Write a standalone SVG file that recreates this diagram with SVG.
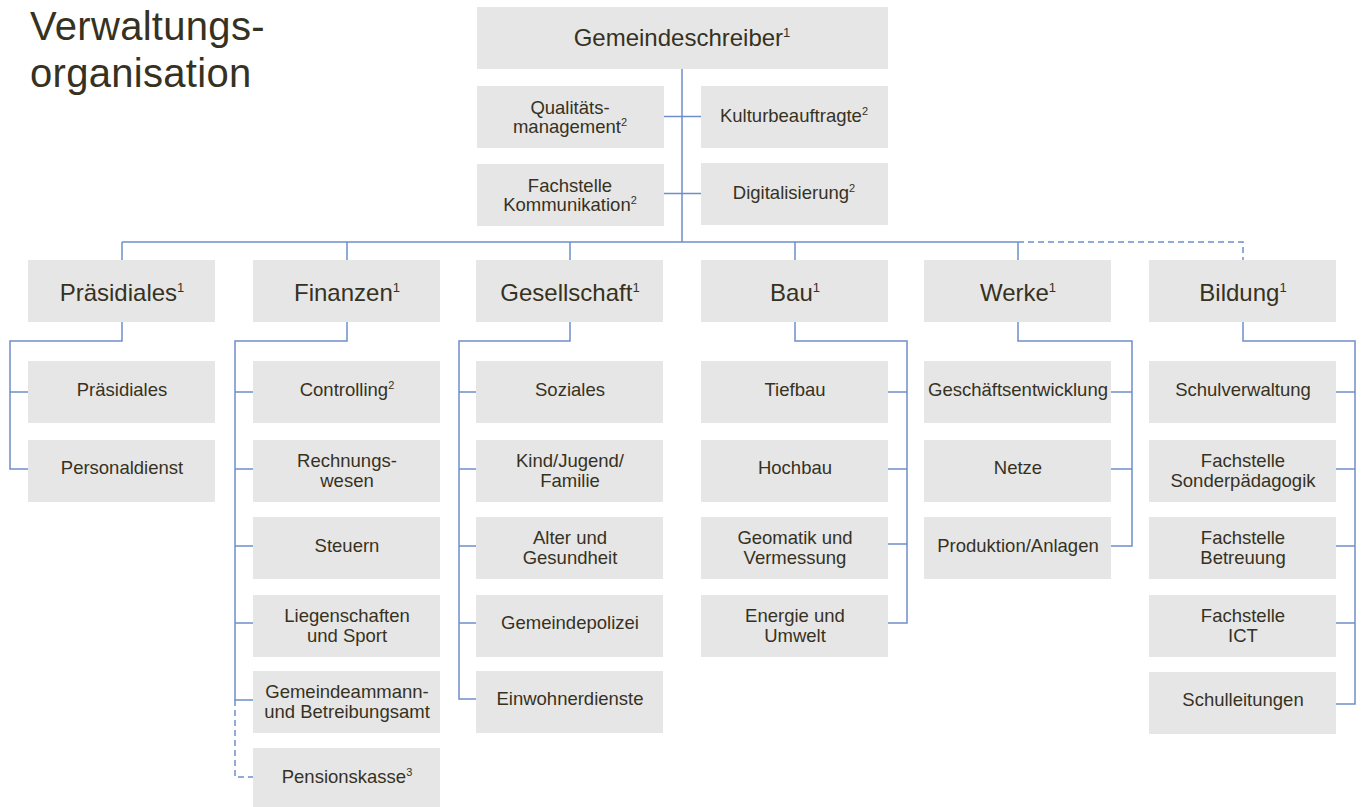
<svg xmlns="http://www.w3.org/2000/svg" width="1364" height="807" viewBox="0 0 1364 807">
<style>
.box{fill:#e6e6e6}
text{font-family:"Liberation Sans",Arial,sans-serif;fill:#36321f;text-anchor:middle}
.t{font-size:18.5px}
.h{font-size:24px}
.title{font-size:40px;text-anchor:start;letter-spacing:0.3px}
.s{font-size:11px}
.sh{font-size:13px}
.ln{fill:none;stroke:#6e8ec9;stroke-width:1.5}
.dash{stroke-dasharray:6 4}
</style>
<rect width="1364" height="807" fill="#fff"/>
<g id="title">
<text class="title" x="30" y="40">Verwaltungs-</text>
<text class="title" x="30" y="87">organisation</text>
</g>
<g id="connectors">
<path class="ln" d="M682 69V242M664 116.5H701M664 193.5H701M122 242H1018M122 242V260M347 242V260M570 242V260M795 242V260M1018 242V260"/>
<path class="ln dash" d="M1018 242H1243V260"/>
<path class="ln" d="M122 322V341H10V469H28M10 392H28"/>
<path class="ln" d="M347 322V341H235V700H253M235 392H253M235 469H253M235 546H253M235 623H253"/>
<path class="ln dash" d="M235 700V777H253"/>
<path class="ln" d="M570 322V341H459V699H476M459 392H476M459 469H476M459 546H476M459 623H476"/>
<path class="ln" d="M795 322V341H907V623H888M907 392H888M907 469H888M907 544H888"/>
<path class="ln" d="M1018 322V341H1132V546H1111M1132 392H1111M1132 469H1111"/>
<path class="ln" d="M1243 322V341H1355V704H1336M1355 392H1336M1355 469H1336M1355 546H1336M1355 623H1336"/>
</g>
<g id="gemeindeschreiber"><rect class="box" x="477" y="7" width="411" height="62"/><text class="h" x="682" y="46">Gemeindeschreiber<tspan class="sh" dy="-9">1</tspan></text></g>
<g id="qualitaet"><rect class="box" x="477" y="86" width="187" height="62"/><text class="t" x="570" y="114">Qualitäts-</text><text class="t" x="570" y="133">management<tspan class="s" dy="-7">2</tspan></text></g>
<g id="kultur"><rect class="box" x="701" y="86" width="187" height="62"/><text class="t" x="794" y="122">Kulturbeauftragte<tspan class="s" dy="-7">2</tspan></text></g>
<g id="kommunikation"><rect class="box" x="477" y="164" width="187" height="62"/><text class="t" x="570" y="192">Fachstelle</text><text class="t" x="570" y="211">Kommunikation<tspan class="s" dy="-7">2</tspan></text></g>
<g id="digitalisierung"><rect class="box" x="701" y="163" width="187" height="62"/><text class="t" x="794" y="199">Digitalisierung<tspan class="s" dy="-7">2</tspan></text></g>

<g id="praesidiales"><rect class="box" x="28" y="260" width="187" height="62"/><text class="h" x="122" y="301">Präsidiales<tspan class="sh" dy="-9">1</tspan></text></g>
<g id="finanzen"><rect class="box" x="253" y="260" width="187" height="62"/><text class="h" x="347" y="301">Finanzen<tspan class="sh" dy="-9">1</tspan></text></g>
<g id="gesellschaft"><rect class="box" x="476" y="260" width="187" height="62"/><text class="h" x="570" y="301">Gesellschaft<tspan class="sh" dy="-9">1</tspan></text></g>
<g id="bau"><rect class="box" x="701" y="260" width="187" height="62"/><text class="h" x="795" y="301">Bau<tspan class="sh" dy="-9">1</tspan></text></g>
<g id="werke"><rect class="box" x="924" y="260" width="187" height="62"/><text class="h" x="1018" y="301">Werke<tspan class="sh" dy="-9">1</tspan></text></g>
<g id="bildung"><rect class="box" x="1149" y="260" width="187" height="62"/><text class="h" x="1243" y="301">Bildung<tspan class="sh" dy="-9">1</tspan></text></g>

<g id="p-praesidiales"><rect class="box" x="28" y="361" width="187" height="62"/><text class="t" x="122" y="396">Präsidiales</text></g>
<g id="p-personaldienst"><rect class="box" x="28" y="440" width="187" height="62"/><text class="t" x="122" y="474">Personaldienst</text></g>

<g id="f-controlling"><rect class="box" x="253" y="361" width="187" height="62"/><text class="t" x="347" y="396">Controlling<tspan class="s" dy="-7">2</tspan></text></g>
<g id="f-rechnungswesen"><rect class="box" x="253" y="440" width="187" height="62"/><text class="t" x="347" y="467">Rechnungs-</text><text class="t" x="347" y="486.5">wesen</text></g>
<g id="f-steuern"><rect class="box" x="253" y="517" width="187" height="62"/><text class="t" x="347" y="552">Steuern</text></g>
<g id="f-liegenschaften"><rect class="box" x="253" y="595" width="187" height="62"/><text class="t" x="347" y="622">Liegenschaften</text><text class="t" x="347" y="641.5">und Sport</text></g>
<g id="f-gemeindeammann"><rect class="box" x="253" y="671" width="187" height="62"/><text class="t" x="347" y="698">Gemeindeammann-</text><text class="t" x="347" y="717.5">und Betreibungsamt</text></g>
<g id="f-pensionskasse"><rect class="box" x="253" y="748" width="187" height="62"/><text class="t" x="347" y="783">Pensionskasse<tspan class="s" dy="-7">3</tspan></text></g>

<g id="g-soziales"><rect class="box" x="476" y="361" width="187" height="62"/><text class="t" x="570" y="396">Soziales</text></g>
<g id="g-kind"><rect class="box" x="476" y="440" width="187" height="62"/><text class="t" x="570" y="467">Kind/Jugend/</text><text class="t" x="570" y="486.5">Familie</text></g>
<g id="g-alter"><rect class="box" x="476" y="517" width="187" height="62"/><text class="t" x="570" y="544">Alter und</text><text class="t" x="570" y="563.5">Gesundheit</text></g>
<g id="g-polizei"><rect class="box" x="476" y="595" width="187" height="62"/><text class="t" x="570" y="629">Gemeindepolizei</text></g>
<g id="g-einwohner"><rect class="box" x="476" y="671" width="187" height="62"/><text class="t" x="570" y="705">Einwohnerdienste</text></g>

<g id="b-tiefbau"><rect class="box" x="701" y="361" width="187" height="62"/><text class="t" x="795" y="396">Tiefbau</text></g>
<g id="b-hochbau"><rect class="box" x="701" y="440" width="187" height="62"/><text class="t" x="795" y="474">Hochbau</text></g>
<g id="b-geomatik"><rect class="box" x="701" y="517" width="187" height="62"/><text class="t" x="795" y="544">Geomatik und</text><text class="t" x="795" y="563.5">Vermessung</text></g>
<g id="b-energie"><rect class="box" x="701" y="595" width="187" height="62"/><text class="t" x="795" y="622">Energie und</text><text class="t" x="795" y="641.5">Umwelt</text></g>

<g id="w-geschaeft"><rect class="box" x="924" y="361" width="187" height="62"/><text class="t" x="1018" y="396">Geschäftsentwicklung</text></g>
<g id="w-netze"><rect class="box" x="924" y="440" width="187" height="62"/><text class="t" x="1018" y="474">Netze</text></g>
<g id="w-produktion"><rect class="box" x="924" y="517" width="187" height="62"/><text class="t" x="1018" y="552">Produktion/Anlagen</text></g>

<g id="e-schulverwaltung"><rect class="box" x="1149" y="361" width="187" height="62"/><text class="t" x="1243" y="396">Schulverwaltung</text></g>
<g id="e-sonder"><rect class="box" x="1149" y="440" width="187" height="62"/><text class="t" x="1243" y="467">Fachstelle</text><text class="t" x="1243" y="486.5">Sonderpädagogik</text></g>
<g id="e-betreuung"><rect class="box" x="1149" y="517" width="187" height="62"/><text class="t" x="1243" y="544">Fachstelle</text><text class="t" x="1243" y="563.5">Betreuung</text></g>
<g id="e-ict"><rect class="box" x="1149" y="595" width="187" height="62"/><text class="t" x="1243" y="622">Fachstelle</text><text class="t" x="1243" y="641.5">ICT</text></g>
<g id="e-schulleitungen"><rect class="box" x="1149" y="672" width="187" height="62"/><text class="t" x="1243" y="706">Schulleitungen</text></g>
</svg>
